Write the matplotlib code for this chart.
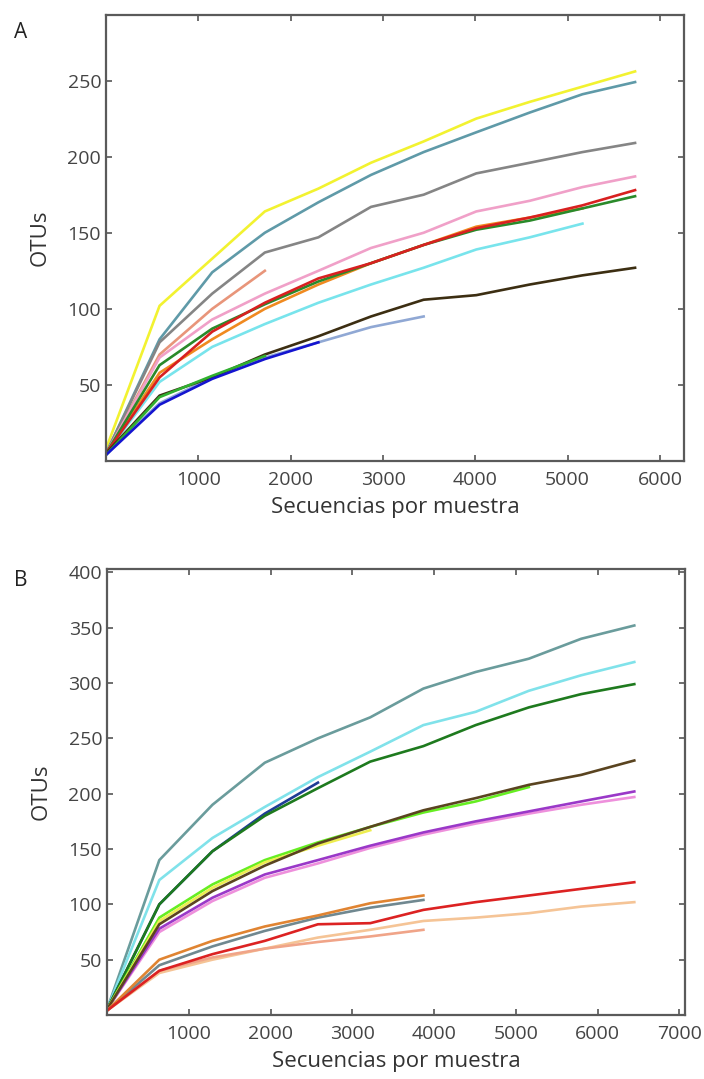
import matplotlib
matplotlib.use("Agg")
import matplotlib.pyplot as plt

plt.rcParams['font.family'] = ['Open Sans', 'DejaVu Sans']

# ---- panel A: rarefaction depths and OTU counts ----
depth_a = [0, 580, 1150, 1720, 2300, 2870, 3440, 4010, 4590, 5160, 5730]

a_yellow = [8, 102, 133, 164, 179, 196, 210, 225, 236, 246, 256]
a_teal = [5, 80, 124, 150, 170, 188, 203, 216, 229, 241, 249]
a_gray = [5, 78, 110, 137, 147, 167, 175, 189, 196, 203, 209]
a_salmon = [5, 70, 100, 125]
a_pink = [5, 68, 93, 110, 125, 140, 150, 164, 171, 180, 187]
a_orange = [5, 58, 80, 100, 116, 130, 142, 154, 160, 166]
a_green = [5, 63, 87, 103, 118, 130, 142, 152, 158, 166, 174]
a_red = [5, 55, 85, 104, 120, 130, 142, 153, 160, 168, 178]
a_cyan = [5, 52, 75, 90, 104, 116, 127, 139, 147, 156]
a_brown = [5, 43, 55, 70, 82, 95, 106, 109, 116, 122, 127]
a_steel = [5, 38, 55, 68, 78, 88, 95]
a_lime = [4, 42, 56, 69]
a_blue = [4, 37, 54, 67, 78]

series_a = [
    (a_salmon, '#e8957a'),
    (a_yellow, '#f2f230'),
    (a_teal, '#5f9aa8'),
    (a_gray, '#858585'),
    (a_pink, '#f0a0c8'),
    (a_cyan, '#78e4ec'),
    (a_orange, '#f08a20'),
    (a_green, '#2a8a2a'),
    (a_red, '#d82020'),
    (a_steel, '#90a8d4'),
    (a_brown, '#3c2e12'),
    (a_lime, '#30b030'),
    (a_blue, '#1414d0'),
]

# ---- panel B ----
depth_b = [0, 640, 1290, 1930, 2580, 3220, 3870, 4510, 5160, 5800, 6450]

b_teal = [5, 140, 190, 228, 250, 269, 295, 310, 322, 340, 352]
b_cyan = [5, 122, 160, 188, 215, 238, 262, 274, 293, 307, 319]
b_green = [5, 100, 148, 180, 205, 229, 243, 262, 278, 290, 299]
b_navy = [5, 100, 148, 182, 210]
b_brown = [5, 82, 112, 135, 155, 170, 185, 196, 208, 217, 230]
b_lime = [5, 88, 118, 140, 156, 170, 183, 193, 206]
b_yellow = [5, 85, 115, 138, 153, 167]
b_purple = [5, 78, 106, 127, 140, 153, 165, 175, 184, 193, 202]
b_pink = [5, 75, 103, 124, 137, 151, 163, 173, 182, 190, 197]
b_orange = [4, 50, 67, 80, 90, 101, 108]
b_slate = [4, 45, 62, 76, 88, 97, 104]
b_red = [4, 40, 55, 67, 82, 83, 95, 102, 108, 114, 120]
b_peach = [4, 38, 50, 60, 70, 77, 85, 88, 92, 98, 102]
b_salmon = [4, 40, 52, 60, 66, 71, 77]

series_b = [
    (b_teal, '#6a9c9c'),
    (b_cyan, '#80e2ea'),
    (b_navy, '#1e3c96'),
    (b_green, '#1e7a1e'),
    (b_pink, '#ee90dc'),
    (b_purple, '#9a38c8'),
    (b_lime, '#66ee22'),
    (b_yellow, '#eeee50'),
    (b_brown, '#5a4420'),
    (b_peach, '#f5c496'),
    (b_salmon, '#f0a488'),
    (b_slate, '#708890'),
    (b_orange, '#e08432'),
    (b_red, '#dc2222'),
]

fig = plt.figure(figsize=(7.04, 10.79), dpi=100)


def style_axes(ax, xlim, ylim, xticks, yticks):
    ax.set_xlim(*xlim)
    ax.set_ylim(*ylim)
    ax.set_xticks(xticks)
    ax.set_yticks(yticks)
    ax.tick_params(direction='in', length=4, width=1.2, color='#555555',
                   top=True, right=True, labelsize=14, labelcolor='#444444')
    ax.tick_params(axis='x', pad=7)
    for s in ax.spines.values():
        s.set_color('#5a5a5a')
        s.set_linewidth(1.6)
    ax.set_xlabel('Secuencias por muestra', fontsize=16, color='#333333', labelpad=6)
    ax.set_ylabel('OTUs', fontsize=16, color='#333333', labelpad=12)


ax1 = fig.add_axes([0.1506, 0.5727, 0.821, 0.4133])
for vals, col in series_a:
    ax1.plot(depth_a[:len(vals)], vals, color=col, lw=1.9)
style_axes(ax1, (0, 6260), (0, 293), range(1000, 7000, 1000), range(50, 300, 50))
fig.text(0.02, 0.965, 'A', fontsize=15, color='#222222')

ax2 = fig.add_axes([0.152, 0.0593, 0.821, 0.4133])
for vals, col in series_b:
    ax2.plot(depth_b[:len(vals)], vals, color=col, lw=1.9)
style_axes(ax2, (0, 7070), (0, 403), range(1000, 8000, 1000), range(50, 450, 50))
fig.text(0.02, 0.457, 'B', fontsize=15, color='#222222')

fig.savefig('out.png', dpi=100)
